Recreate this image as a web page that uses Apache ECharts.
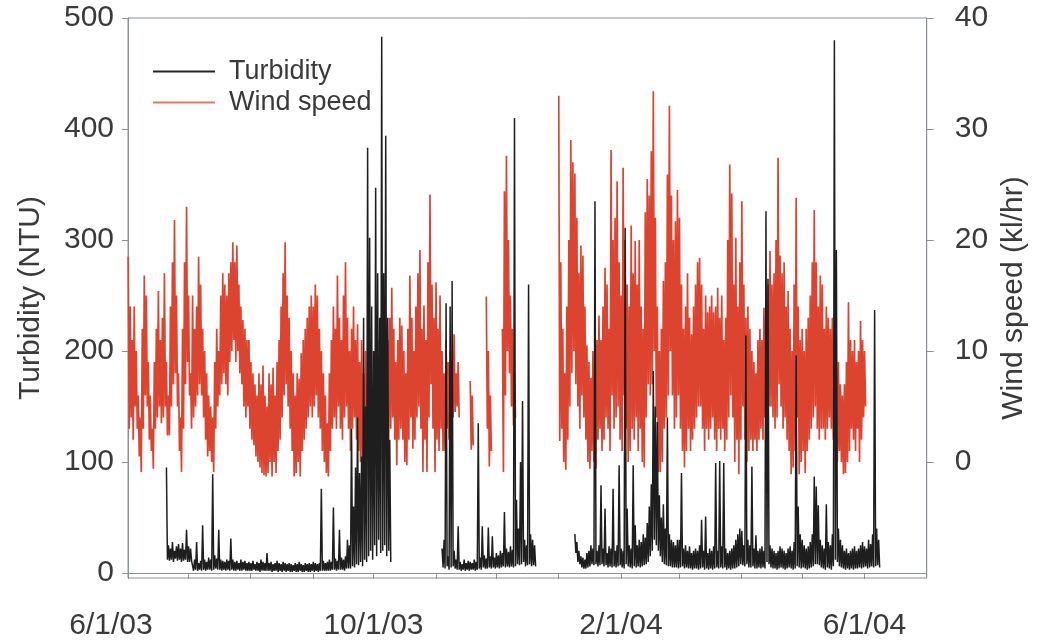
<!DOCTYPE html>
<html>
<head>
<meta charset="utf-8">
<script src="https://cdn.jsdelivr.net/npm/echarts@6.0.0/dist/echarts.min.js"></script>
<style>
  html, body { margin: 0; padding: 0; background: #ffffff; }
  #chart { width: 1037px; height: 641px; }
</style>
</head>
<body>
<div id="chart"></div>
<script>
// ---- X axis: days since 6/1/03 ----
const monthTickDays = [0, 30, 61, 92, 122, 153, 183, 214, 245, 274, 305, 335, 366];
const xLabelDays = [0, 122, 245, 366];
const xLabelText = ['6/1/03', '10/1/03', '2/1/04', '6/1/04'];
const leftTicks = [0, 100, 200, 300, 400, 500];
const rightTicks = [0, 10, 20, 30, 40];

// ---- Wind speed (km/hr): daily high / low, segments start at these days ----
const windStart = [0, 170, 178, 186, 214];
const windHi1 = [
  18.5,14,11,14,10,6,4,12,16.8,15,
  9,6,3,9,12,15.4,11,13,17,9,
  6,14,18,21.8,15,8,4,12,18,23,
  15,8,15,12,14,18.5,16,12,10,8,
  6,5,4,9,12,10,15,17,16,15,
  17,18,19.8,18,19.5,16,14,12.8,12,11,
  11,9,8,7,6,8,7,8.7,6,5,
  8,7,8.5,6,9,11,14,17,19.8,15,
  13,10,8,6,8,7.5,9.8,11,12,13,
  14,15,14,16,15,12,10,8,6,3.5,
  8,11,14,12,16.8,13,11,15,18,13,
  10,12,14,11,12.4,9,11,8,10,7,
  9,6,10,8,11,9,12,10,8,11,
  13,15.7,12,9,11,13,12.3,10,8,12,
  16.8,13,10,14,17,19.1,12,14.1,11,18,
  24.1,16,13,16.2,12,15,10,8,11,9,
  10,9,11.5,8,9
];
const windLo1 = [
  3,4,2,5,3,0.5,-0.9,3,6,5,
  2,1,-0.6,3,4,5,3.5,4,5,2.4,
  2.4,5,7,8,5,1,-0.9,3,7,9,
  6,3,4,5,6,7,6,4,2,0.5,
  1,0,-0.9,3,5,6,7,8,7,6,
  9,10,11,9,10,8,7,5,4,5,
  3,2,1.5,0.5,0,-0.5,-1,-1.2,-1.3,-1,
  0,-1.3,0,-1,1,2,4,6,7,5,
  3,1,-1.3,-1,0,-1.3,1,2,3,4,
  5,4,5,6,4,3,1,0,-1,-1.3,
  1,3,4,3,5,3,2,4,5,3,
  1,3,4,2,1,0,-0.5,0,1,0.2,
  0.5,0,2,1,3,0,2,1,0,2,
  3,4,2,-0.3,2,3,2,0,-0.3,2,
  4,1.2,2,4,5,3,-0.9,2,-0.9,4,
  7,3,-0.9,2,1,3,1,1,3,2,
  4.2,4,4.5,5,4
];
const windHi2 = [7.3, 6];
const windLo2 = [1.1, 1.5];
const windHi3 = [14.9, 10, 6];
const windLo3 = [3, -0.4, 1];
const windHi4 = [12, 24.4, 27.6, 20, 15, 12, 8];
const windLo4 = [-0.9, 6, 10, 8, 5, 3.3, 4];
const windHi5 = [
  33,18,12,8,14,20,29,27,26,22,
  17,19.5,18.6,14,10.5,9,7.6,10,8,11,
  13.2,11,14,17.5,16,12,
  28.1,20,22,25.3,18,15,26.5,20,16,14,
  21.3,17,19.9,16,20,14,12,22.5,25.5,24,
  28,33.4,22,14,10,12,16.3,18,25.9,32.1,
  24,20,21.7,24.5,22,16,12,14,17,13,
  11.5,14,16,18,18.4,16,12,15,13.5,14,
  15,13.5,14,15.7,13,15,11,13,20,26.8,
  24.2,16,20.2,14,18,23.5,16,13,14,12,
  10,9,8,11,12,11,13.9,12,16,19,
  16,17,20,27.4,18.6,17,18,14,15.4,12,
  10,16,23.8,14,11,12,10,12,13,15,
  18,22.7,18,14,16.8,16,12,14,13,12,
  13,11,9.1,9,7,6,7,9,14.4,11,
  10,11,9,10,12.7,11,10
];
const windLo5 = [
  1.9,3,0,-0.7,2,5,8,10,7,5,
  3,6,4,2,0,-0.6,1,0,-0.6,2,
  3,1,2,4,3,1,
  6,3,4,5,2,1,6,3,0,1,
  3,2,4,1,3,0,-0.5,4,7,6,
  7,10,4,-0.9,-0.9,0,3,4,6,10,
  6,3,4,6,3,1,-0.5,1,3,1,
  2,3,4,5,5,3,1,3,2,3,
  4,2,1,3,2,3,1,2,4,6,
  4,0,2,-1.1,2,5,2,0,1,2,
  1,2,1,2,3,2,4,3,5,5,
  4,3,4,7,5,3,4,2,1,-1.1,
  -0.5,1,4,-1.1,0,1,-1,1,2,3,
  4,5,3,2,3,3,2,3,4,3,
  2,1,0,1,0,-1.1,-1,0,1,3,
  2,1,3,0,2,4,5
];

// ---- Turbidity (NTU): daily high / low, segments start at these days ----
const turbStart = [19, 156, 222];
const turbHi1 = [
  95,
  25,22,28,20,24,26,22,27,21,39,
  24,22,10,12,28,9,11,43,12,10,
  14,12,89,16,13,39,12,11,10,12,
  11,31,12,10,11,9,12,10,11,9,
  10,9,11,8,10,9,12,10,9,18,
  9,10,8,9,11,9,8,10,9,8,
  9,8,7,9,8,10,8,7,9,8,
  9,8,10,9,8,9,76,11,9,10,
  12,10,59,13,11,39,14,12,15,30,
  25,130,60,95,140,90,105,230,150,383,
  302,240,200,347,270,230,483,270,394,230,120
];
const turbLo1 = [
  12,
  11,12,10,13,11,12,10,11,12,10,
  10,11,2,3,2,3,2,3,2,3,
  3,2,3,4,3,3,2,3,2,3,
  2,3,2,2,3,2,2,3,2,2,
  2,2,3,2,2,1,2,2,2,2,
  2,1,2,2,1,2,1,2,1,2,
  1,1,2,1,1,2,1,1,2,1,
  1,2,1,2,1,2,2,2,2,2,
  2,3,3,2,3,3,3,2,4,4,
  4,6,5,8,7,10,6,12,10,15,
  20,12,25,15,30,18,20,25,15,20,10
];
const turbHi2 = [
  22,30,243,15,240,263,20,12,42,
  10,8,12,9,11,10,9,12,10,
  135,14,42,16,13,41,15,33,14,18,16,
  20,18,55,22,19,24,21,
  410,66,40,100,155,30,25,260,35,30,25
];
const turbLo2 = [
  5,4,6,3,5,6,4,3,3,
  2,3,2,3,2,3,3,2,3,
  4,3,5,4,4,5,4,5,4,5,4,
  5,6,5,6,5,6,5,
  6,8,7,8,10,6,7,8,6,7,6
];
const turbHi3 = [
  35,28,20,15,14,12,18,20,25,22,
  335,20,25,79,22,58,18,24,22,76,
  20,25,97,22,20,311,58,25,22,97,
  43,25,30,28,35,32,45,60,80,182,
  150,136,70,50,62,40,140,35,30,28,
  25,30,30,90,22,25,20,24,18,20,
  22,20,25,48,20,51,18,22,20,24,
  99,20,101,24,99,22,18,20,22,25,
  30,35,40,38,25,214,30,25,96,22,
  34,20,22,24,20,326,265,25,22,20,
  18,20,24,22,20,18,22,24,20,28,
  196,60,35,30,25,22,24,28,35,87,
  78,61,30,25,22,62,28,25,35,480,
  291,40,30,25,20,22,18,20,22,24,
  20,22,25,28,24,22,30,26,35,237,40,30
];
const turbLo3 = [
  18,10,8,5,4,4,5,6,8,7,
  8,6,7,8,6,7,5,6,5,6,
  5,6,7,5,4,8,6,5,4,6,
  5,6,5,6,7,8,10,15,20,30,
  25,20,15,10,8,7,6,6,5,5,
  5,4,5,6,4,5,4,4,3,4,
  4,3,4,5,3,4,3,4,3,4,
  5,4,5,4,5,3,4,3,4,4,
  5,6,8,7,6,8,5,5,6,4,
  4,5,4,5,4,10,8,5,4,4,
  3,4,5,4,3,4,5,4,3,4,
  6,5,4,5,4,3,4,5,6,8,
  8,7,5,4,3,5,4,3,6,12,
  10,6,5,4,3,4,3,4,3,4,
  4,5,4,5,6,4,5,6,5,6,7,5
];

function buildLine(starts, his, los) {
  const out = [];
  starts.forEach((s, k) => {
    const hi = his[k], lo = los[k];
    for (let i = 0; i < hi.length; i++) {
      out.push([s + i + 0.1, hi[i]]);
      out.push([s + i + 0.6, lo[i]]);
    }
    out.push([s + hi.length + 0.2, null]);
  });
  return out;
}

const windData = buildLine(windStart, [windHi1, windHi2, windHi3, windHi4, windHi5],
                                      [windLo1, windLo2, windLo3, windLo4, windLo5]);
const turbData = buildLine(turbStart, [turbHi1, turbHi2, turbHi3], [turbLo1, turbLo2, turbLo3]);

const FONT = '"Liberation Sans", Arial, Helvetica, sans-serif';
const AXIS_COLOR = '#8a9399';
const TEXT_COLOR = '#3a3a3a';

const chart = echarts.init(document.getElementById('chart'), null, { renderer: 'canvas' });
chart.setOption({
  animation: false,
  backgroundColor: '#ffffff',
  textStyle: { fontFamily: FONT },
  grid: { left: 128, right: 108, top: 18, bottom: 61, show: true, borderColor: AXIS_COLOR, borderWidth: 1, backgroundColor: 'transparent' },
  legend: {
    orient: 'vertical', left: 148, top: 53, itemWidth: 62, itemHeight: 2, itemGap: 4,
    icon: 'rect',
    textStyle: { fontSize: 27, color: TEXT_COLOR, fontFamily: FONT, padding: [0, 0, 0, 9] },
    data: [
      { name: 'Turbidity', itemStyle: { color: '#262626' } },
      { name: 'Wind speed', itemStyle: { color: '#e8775e' } }
    ]
  },
  xAxis: {
    type: 'value', min: 0, max: 397,
    axisLine: { show: true, lineStyle: { color: AXIS_COLOR, width: 1 } },
    axisTick: { show: true, length: 6, lineStyle: { color: AXIS_COLOR }, customValues: monthTickDays },
    axisLabel: {
      customValues: xLabelDays, margin: 33, fontSize: 30, color: TEXT_COLOR, fontFamily: FONT,
      formatter: v => {
        const i = xLabelDays.indexOf(Math.round(v));
        if (i < 0) return '';
        return i === 0 ? '{first|' + xLabelText[i] + '}' : xLabelText[i];
      },
      rich: { first: { fontSize: 30, color: TEXT_COLOR, fontFamily: FONT, padding: [0, 34, 0, 0] } }
    },
    splitLine: { show: false }
  },
  yAxis: [
    {
      type: 'value', min: -4.5, max: 500, position: 'left',
      name: 'Turbidity (NTU)', nameLocation: 'middle', nameRotate: 90, nameGap: 82,
      nameTextStyle: { fontSize: 30, color: TEXT_COLOR, fontFamily: FONT },
      axisLine: { show: true, lineStyle: { color: AXIS_COLOR } },
      axisTick: { show: true, length: 6, lineStyle: { color: AXIS_COLOR }, customValues: leftTicks },
      axisLabel: { customValues: leftTicks, margin: 14, fontSize: 30, color: TEXT_COLOR, fontFamily: FONT },
      splitLine: { show: false }
    },
    {
      type: 'value', min: -10.45, max: 40, position: 'right',
      name: 'Wind speed (kl/hr)', nameLocation: 'middle', nameRotate: 90, nameGap: 72,
      nameTextStyle: { fontSize: 30, color: TEXT_COLOR, fontFamily: FONT },
      axisLine: { show: true, lineStyle: { color: AXIS_COLOR } },
      axisTick: { show: true, length: 7, lineStyle: { color: AXIS_COLOR }, customValues: rightTicks },
      axisLabel: { customValues: rightTicks, margin: 28, fontSize: 30, color: TEXT_COLOR, fontFamily: FONT },
      splitLine: { show: false }
    }
  ],
  series: [
    {
      name: 'Wind speed', type: 'line', yAxisIndex: 1, data: windData,
      symbol: 'none', showSymbol: false, connectNulls: false,
      lineStyle: { color: '#dc4430', width: 1.7 }, itemStyle: { color: '#dc4430' },
      emphasis: { disabled: true }, silent: true, z: 2
    },
    {
      name: 'Turbidity', type: 'line', yAxisIndex: 0, data: turbData,
      symbol: 'none', showSymbol: false, connectNulls: false,
      lineStyle: { color: '#1e1e1e', width: 1.5 }, itemStyle: { color: '#1e1e1e' },
      emphasis: { disabled: true }, silent: true, z: 3
    }
  ]
});
</script>
</body>
</html>
